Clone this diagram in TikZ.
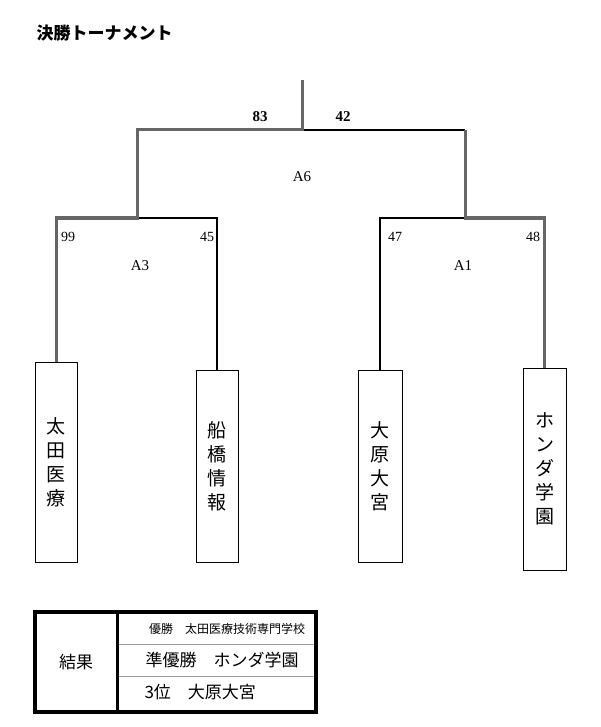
\documentclass[tikz,border=0pt]{standalone}
\usepackage{fontspec}
\setmainfont{Liberation Serif}
\newfontfamily\jp{Noto Sans CJK JP}
\begin{document}
\begin{tikzpicture}[x=1pt, y=-1pt,
    win/.style={line width=3pt, draw=black!60},
    lose/.style={line width=1.2pt, draw=black},
    team/.style={draw, line width=1pt, inner sep=0pt, font=\jp\fontsize{19}{24}\selectfont, align=center},
    score/.style={font=\fontsize{14}{16}\selectfont},
    game/.style={font=\fontsize{15}{17}\selectfont}]
    \useasboundingbox (0,0) rectangle (600,727);

    \node[anchor=west, font=\jp\bfseries\fontsize{17}{20}\selectfont] (title) at (33,33) {決勝トーナメント};

    % teams
    \node[team, minimum width=42pt, minimum height=200pt] (ota) at (56,462) {太\\田\\医\\療};
    \node[team, minimum width=42pt, minimum height=192pt] (funa) at (217,466) {船\\橋\\情\\報};
    \node[team, minimum width=44pt, minimum height=192pt] (ohara) at (380,466) {大\\原\\大\\宮};
    \node[team, minimum width=43pt, minimum height=202pt] (honda) at (544.5,469) {ホ\\ン\\ダ\\学\\園};

    % bracket points
    \coordinate (top) at (302,80);
    \coordinate (fin) at (302,130);
    \coordinate (l) at (137,130);
    \coordinate (r) at (465,130);
    \coordinate (lm) at (137,218);
    \coordinate (rm) at (465,218);
    \coordinate (a) at (56,218);
    \coordinate (b) at (217,218);
    \coordinate (c) at (380,218);
    \coordinate (d) at (544.5,218);

    \draw[lose] (fin) -- (r);
    \draw[lose] (lm) -- (b) -- (funa.north);
    \draw[lose] (rm) -- (c) -- (ohara.north);
    \draw[win] (top) -- (fin) -- (l) -- (lm) -- (a) -- (ota.north);
    \draw[win] (r) -- (rm) -- (d) -- (honda.north);

    % scores
    \node[font=\bfseries\fontsize{15}{17}\selectfont] (s83) at (260,117) {83};
    \node[font=\bfseries\fontsize{15}{17}\selectfont] (s42) at (343,117) {42};
    \node[game] (g6) at (302,177) {A6};
    \node[score] (s99) at (68,237) {99};
    \node[score] (s45) at (207,237) {45};
    \node[game] (g3) at (140,266) {A3};
    \node[score] (s47) at (395,237) {47};
    \node[score] (s48) at (533,237) {48};
    \node[game] (g1) at (463,266) {A1};

    % result table
    \draw[line width=0.8pt, draw=black!40] (117,644) -- (316,644) (117,676) -- (316,676);
    \draw[line width=3.5pt] (35,612) rectangle (316,712);
    \draw[line width=3pt] (117,612) -- (117,712);
    \node[font=\jp\fontsize{17}{19}\selectfont] (res) at (76,662) {結果};
    \node[font=\jp\fontsize{12}{14}\selectfont] (first) at (227,629) {優勝\quad 太田医療技術専門学校};
    \node[font=\jp\fontsize{17}{19}\selectfont] (second) at (222,660) {準優勝\quad ホンダ学園};
    \node[font=\jp\fontsize{17}{19}\selectfont, anchor=west] (third) at (141,692) {3位\quad 大原大宮};
\end{tikzpicture}
\end{document}
